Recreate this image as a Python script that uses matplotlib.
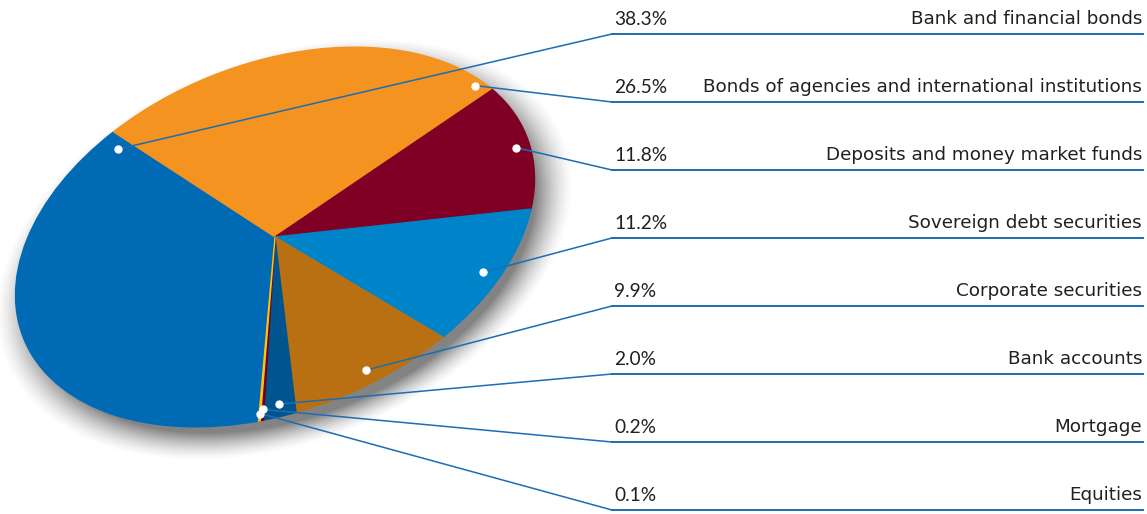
import numpy as np
import matplotlib
matplotlib.use("Agg")
import matplotlib.pyplot as plt
from matplotlib.transforms import Affine2D

# Portfolio breakdown
labels = ["Bank and financial bonds",
          "Bonds of agencies and international institutions",
          "Deposits and money market funds",
          "Sovereign debt securities",
          "Corporate securities",
          "Bank accounts",
          "Mortgage",
          "Equities"]
shares = [38.3, 26.5, 11.8, 11.2, 9.9, 2.0, 0.2, 0.1]
colors = ["#006bb4", "#f4931f", "#800025", "#0084c9",
          "#b97013", "#00558f", "#6e0025", "#ffc20e"]

# where the white marker sits inside each wedge (fraction of sweep, radius)
dot_frac = [0.978, 0.954, 0.5, 0.5, 0.5, 0.5, 0.5, 0.5]
dot_rad = [0.91, 0.97, 0.95, 0.92, 0.92, 0.93, 0.94, 0.96]

fig = plt.figure(figsize=(11.47, 5.14), dpi=100)
ax = fig.add_axes([0, 0, 1, 1])

# tilted ellipse: unit pie squashed, rotated, then placed
cx, cy = 275, 237
pie_tf = Affine2D().scale(271, 173).rotate_deg(22).scale(1, -1).translate(cx, cy)

# soft drop shadow under the ellipse
gx, gy = np.meshgrid(np.arange(0, 1147), np.arange(0, 514))
pts = np.column_stack([gx.ravel() - 9, gy.ravel() - 12])
uv = pie_tf.inverted().transform(pts)
d = (np.hypot(uv[:, 0], uv[:, 1]) - 1.0) * 175
a = np.clip(1 - (d + 6) / 26, 0, 1) ** 1.5 * 0.65
shadow = np.zeros((514 * 1147, 4))
shadow[:, :3] = 0.25
shadow[:, 3] = a
ax.imshow(shadow.reshape(514, 1147, 4), extent=(0, 1147, 514, 0),
          origin="upper", zorder=0, interpolation="bilinear")

start = 251.9
wedges, _ = ax.pie(shares, colors=colors, startangle=start, counterclock=False,
                   radius=1, center=(0, 0), frame=True)
for w in wedges:
    w.set_transform(pie_tf + ax.transData)
    w.set_edgecolor(w.get_facecolor())
    w.set_linewidth(1.0)
    w.set_zorder(2)
ax.set_xlim(0, 1147)
ax.set_ylim(514, 0)
ax.set_aspect("auto")
ax.axis("off")

# marker points inside wedges, leader lines and labels
cum = start
line_x0, line_x1 = 612, 1143
for i, (lab, v) in enumerate(zip(labels, shares)):
    sweep = v / 100 * 360
    ang = np.deg2rad(cum - sweep * dot_frac[i])
    cum -= sweep
    px, py = pie_tf.transform([[dot_rad[i] * np.cos(ang), dot_rad[i] * np.sin(ang)]])[0]
    ly = 34 + 68 * i
    ax.plot([px, line_x0], [py, ly], color="#1c6db3", lw=1.1, zorder=3)
    ax.plot([line_x0, line_x1], [ly, ly], color="#1c6db3", lw=1.4, zorder=3)
    ax.plot(px, py, "o", ms=5, color="white", zorder=4)
    ax.text(line_x0 + 2, ly - 6, f"{v:.1f}%", ha="left", va="bottom",
            fontsize=13.8, color="#231f20", family="Lato")
    ax.text(line_x1 - 1, ly - 6, lab, ha="right", va="bottom",
            fontsize=13.2, color="#231f20", family="DejaVu Sans")

fig.savefig("out.png", dpi=100)
